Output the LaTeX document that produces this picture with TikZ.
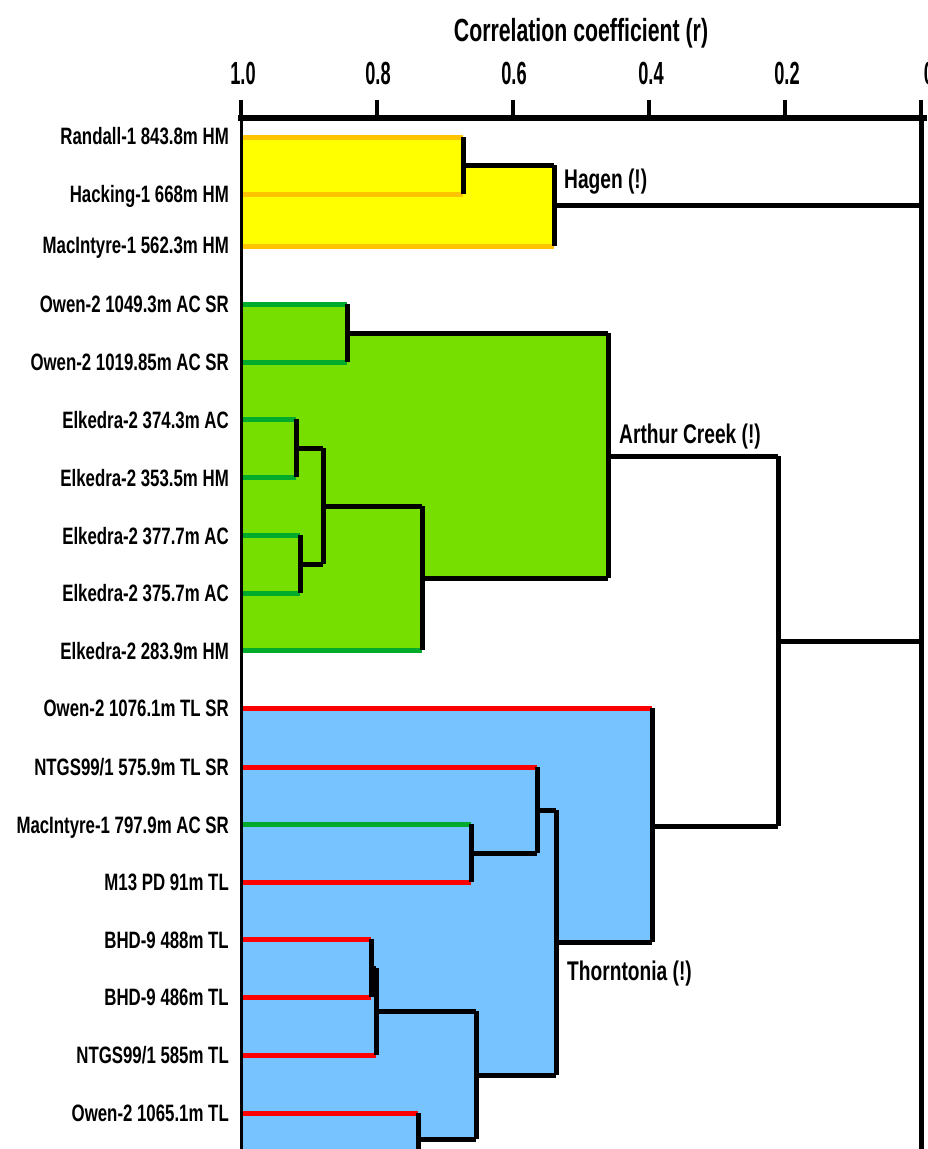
\documentclass[tikz,border=0pt]{standalone}
\usepackage{fontspec}
\setmainfont{Liberation Sans}[FakeStretch=0.71]
\newfontfamily\tickfont{Liberation Sans}[FakeStretch=0.57]
\newfontfamily\titlefont{Liberation Sans}[FakeStretch=0.665]
\definecolor{yfill}{HTML}{FFFF00}
\definecolor{yline}{HTML}{FFC400}
\definecolor{gfill}{HTML}{77DF00}
\definecolor{gline}{HTML}{00AA2A}
\definecolor{bfill}{HTML}{77C3FF}
\definecolor{rline}{HTML}{FF0000}
\begin{document}
\begin{tikzpicture}[x=1pt,y=-1pt,
  leaf/.style={line width=5pt},
  tree/.style={line width=5pt, black, line join=miter},
  lbl/.style={anchor=base east, inner sep=0pt, font=\bfseries\fontsize{23.7}{26}\selectfont},
  grp/.style={anchor=base west, inner sep=0pt, font=\bfseries\fontsize{27}{30}\selectfont},
  tick/.style={anchor=base, inner sep=0pt, font=\tickfont\bfseries\fontsize{32}{34}\selectfont}]
\useasboundingbox (0,0) rectangle (927,1149);
\clip (0,0) rectangle (927,1149);
% fills
\fill[yfill] (241,137)--(463,137)--(463,165)--(554,165)--(554,246)--(241,246)--cycle;
\fill[gfill] (241,304)--(347,304)--(347,333)--(608,333)--(608,578)--(422,578)--(422,650)--(241,650)--cycle;
\fill[bfill] (241,708)--(652,708)--(652,942)--(556,942)--(556,1075)--(476,1075)--(476,1139)--(418,1139)--(418,1160)--(241,1160)--cycle;
% leaf lines
\draw[leaf,yline] (241,137)--(463,137);
\draw[leaf,yline] (241,194)--(463,194);
\draw[leaf,yline] (241,246)--(554,246);
\draw[leaf,gline] (241,304)--(347,304);
\draw[leaf,gline] (241,362)--(347,362);
\draw[leaf,gline] (241,419)--(296,419);
\draw[leaf,gline] (241,477)--(296,477);
\draw[leaf,gline] (241,535)--(300,535);
\draw[leaf,gline] (241,593)--(300,593);
\draw[leaf,gline] (241,650)--(422,650);
\draw[leaf,rline] (241,708)--(652,708);
\draw[leaf,rline] (241,767)--(537,767);
\draw[leaf,gline] (241,824)--(471,824);
\draw[leaf,rline] (241,882)--(471,882);
\draw[leaf,rline] (241,939)--(371,939);
\draw[leaf,rline] (241,997)--(371,997);
\draw[leaf,rline] (241,1055)--(376,1055);
\draw[leaf,rline] (241,1113)--(418,1113);
% tree
\draw[tree] (463,137)--(463,194);
\draw[tree] (463,165)--(554,165);
\draw[tree] (554,165)--(554,246);
\draw[tree] (554,205)--(921,205);
\draw[tree] (347,304)--(347,362);
\draw[tree] (347,333)--(608,333);
\draw[tree] (296,419)--(296,477);
\draw[tree] (296,448)--(323,448);
\draw[tree] (300,535)--(300,593);
\draw[tree] (300,564)--(323,564);
\draw[tree] (323,448)--(323,564);
\draw[tree] (323,506)--(422,506);
\draw[tree] (422,506)--(422,650);
\draw[tree] (422,578)--(608,578);
\draw[tree] (608,333)--(608,578);
\draw[tree] (608,456)--(778,456);
\draw[tree] (471,824)--(471,882);
\draw[tree] (471,853)--(537,853);
\draw[tree] (537,767)--(537,853);
\draw[tree] (537,810)--(556,810);
\draw[tree] (371,939)--(371,997);
\draw[tree] (371,968)--(376,968);
\draw[tree] (376,968)--(376,1055);
\draw[tree] (376,1011)--(476,1011);
\draw[tree] (418,1113)--(418,1160);
\draw[tree] (418,1139)--(476,1139);
\draw[tree] (476,1011)--(476,1139);
\draw[tree] (476,1075)--(556,1075);
\draw[tree] (556,810)--(556,1075);
\draw[tree] (556,942)--(652,942);
\draw[tree] (652,708)--(652,942);
\draw[tree] (652,826)--(778,826);
\draw[tree] (778,456)--(778,826);
\draw[tree] (778,641)--(921,641);
% axes
\draw[line width=3pt] (241,118)--(241,1160);
\draw[line width=5pt] (921,118)--(921,1160);
\draw[line width=6pt] (238,118)--(927,118);
\foreach \x in {241,377,513,649,785,921} \draw[line width=4pt] (\x,100)--(\x,118);
% tick labels
\node[tick] (t10) at (243,84) {1.0};
\node[tick] (t08) at (378,84) {0.8};
\node[tick] (t06) at (514,84) {0.6};
\node[tick] (t04) at (651,84) {0.4};
\node[tick] (t02) at (787,84) {0.2};
\node[tick] (t00) at (929,84) {0};
\node[anchor=base, inner sep=0pt, font=\titlefont\bfseries\fontsize{32}{34}\selectfont] (title) at (581,41) {Correlation coefficient (r)};
% leaf labels
\node[lbl] (l1) at (229,144) {Randall-1 843.8m HM};
\node[lbl] (l2) at (229,202) {Hacking-1 668m HM};
\node[lbl] (l3) at (229,253) {MacIntyre-1 562.3m HM};
\node[lbl] (l4) at (229,312) {Owen-2 1049.3m AC SR};
\node[lbl] (l5) at (229,370) {Owen-2 1019.85m AC SR};
\node[lbl] (l6) at (229,428) {Elkedra-2 374.3m AC};
\node[lbl] (l7) at (229,486) {Elkedra-2 353.5m HM};
\node[lbl] (l8) at (229,544) {Elkedra-2 377.7m AC};
\node[lbl] (l9) at (229,601) {Elkedra-2 375.7m AC};
\node[lbl] (l10) at (229,659) {Elkedra-2 283.9m HM};
\node[lbl] (l11) at (229,716) {Owen-2 1076.1m TL SR};
\node[lbl] (l12) at (229,775) {NTGS99/1 575.9m TL SR};
\node[lbl] (l13) at (229,833) {MacIntyre-1 797.9m AC SR};
\node[lbl] (l14) at (229,890) {M13 PD 91m TL};
\node[lbl] (l15) at (229,948) {BHD-9 488m TL};
\node[lbl] (l16) at (229,1005) {BHD-9 486m TL};
\node[lbl] (l17) at (229,1063) {NTGS99/1 585m TL};
\node[lbl] (l18) at (229,1121) {Owen-2 1065.1m TL};
% group labels
\node[grp] (g1) at (564,188) {Hagen (!)};
\node[grp] (g2) at (619,443) {Arthur Creek (!)};
\node[grp] (g3) at (567,980) {Thorntonia (!)};
\end{tikzpicture}
\end{document}
